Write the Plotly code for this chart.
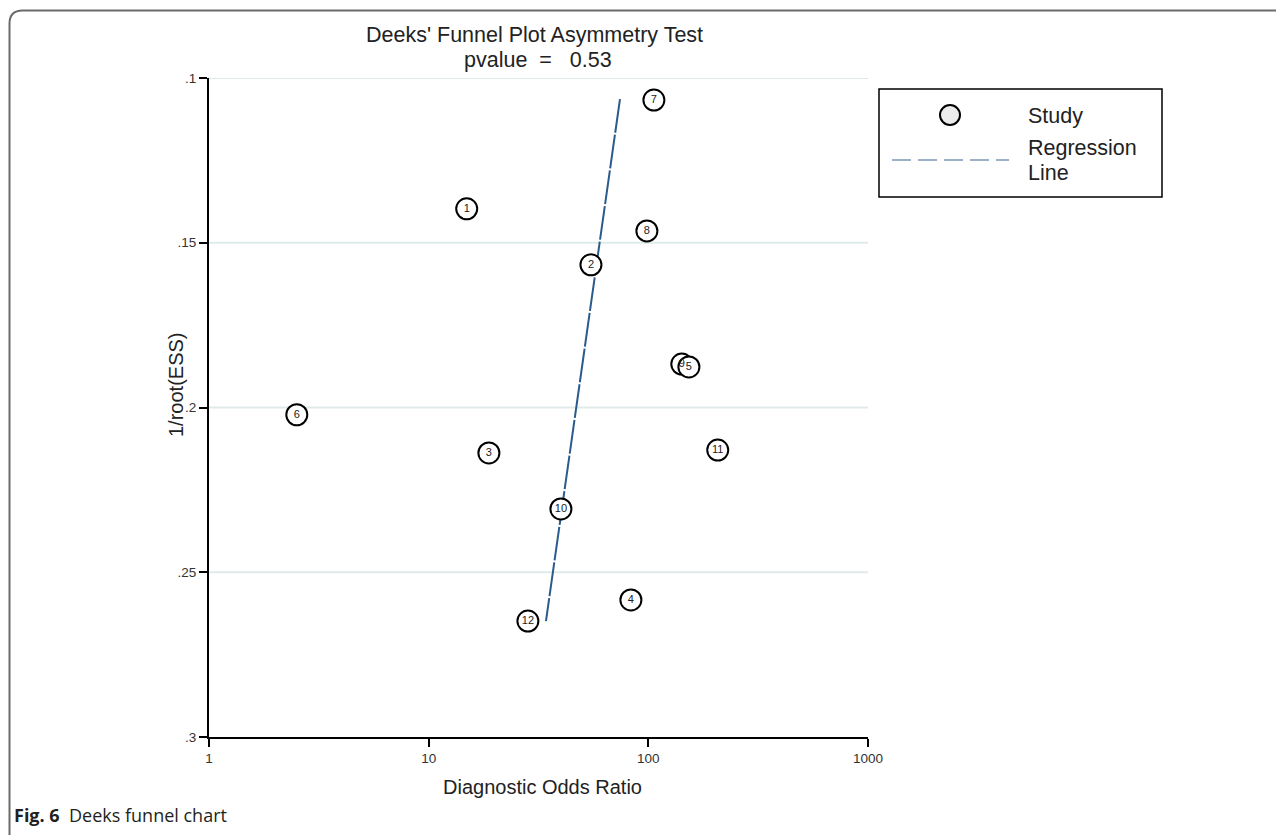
import plotly.graph_objects as go

# ---- data ----
study_ids = ["1", "7", "8", "2", "9", "5", "6", "3", "11", "10", "4", "12"]
dor = [14.9, 106, 98.5, 54.8, 142, 153, 2.51, 18.8, 207, 40.0, 83.3, 28.3]
inv_root_ess = [0.1397, 0.1067, 0.1464, 0.1567, 0.1868, 0.1877, 0.2022, 0.2138, 0.2129, 0.2308, 0.2584, 0.2648]

reg_x = [74.3, 34.2]
reg_y = [0.1064, 0.2648]

y_ticks = [0.1, 0.15, 0.2, 0.25, 0.3]
y_ticktext = [".1", ".15", ".2", ".25", ".3"]
x_ticks = [1, 10, 100, 1000]
x_ticktext = ["1", "10", "100", "1000"]

title_line1 = "Deeks' Funnel Plot Asymmetry Test"
title_line2 = "pvalue\u00a0\u00a0=\u00a0\u00a0\u00a00.53"

W, H = 1284, 835
OFF = 8  # page body margin of the browser
L, R, T, B = 209, 868, 78, 737   # plot area in reference pixels
pw, ph = R - L, B - T


def px(x):
    return (x - L) / pw


def py(y):
    return (B - y) / ph


FONT = "Liberation Sans, Arial, sans-serif"

fig = go.Figure()

fig.add_trace(go.Scatter(
    x=reg_x, y=reg_y, mode="lines",
    line=dict(color="#2b5b8c", width=2, dash="34px,2px"),
    showlegend=False, hoverinfo="skip"))

fig.add_trace(go.Scatter(
    x=dor, y=inv_root_ess, mode="markers+text",
    text=study_ids, textposition="middle center",
    textfont=dict(family=FONT, size=11, color="#222"),
    marker=dict(size=21, color="white", line=dict(color="black", width=2)),
    showlegend=False))

shapes = []
for v in y_ticks[:-1]:
    shapes.append(dict(type="line", xref="paper", yref="y", x0=0, x1=1, y0=v, y1=v,
                       line=dict(color="#dfeaea", width=2), layer="below"))

# outer frame with rounded top-left corner
fx0, fy0, rr = 9.5, 10.5, 13
path = (f"M {px(fx0)},{py(H + 20)} L {px(fx0)},{py(fy0 + rr)} "
        f"Q {px(fx0)},{py(fy0)} {px(fx0 + rr)},{py(fy0)} L {px(W + 20)},{py(fy0)}")
shapes.append(dict(type="path", xref="paper", yref="paper", path=path,
                   line=dict(color="#6b6b6b", width=2)))

# legend box
shapes.append(dict(type="rect", xref="paper", yref="paper",
                   x0=px(879), x1=px(1162), y0=py(197), y1=py(89),
                   line=dict(color="black", width=1.5), fillcolor="white"))
shapes.append(dict(type="circle", xref="paper", yref="paper",
                   x0=px(940), x1=px(960), y0=py(125), y1=py(105),
                   line=dict(color="black", width=2), fillcolor="#ececec"))
shapes.append(dict(type="line", xref="paper", yref="paper",
                   x0=px(892), x1=px(1009), y0=py(160), y1=py(160),
                   line=dict(color="#9db1c6", width=2, dash="19px,7px")))

annotations = [
    dict(text=title_line1, x=px(534), y=py(35), xref="paper", yref="paper",
         showarrow=False, font=dict(family=FONT, size=21.5, color="#222"),
         xanchor="center", yanchor="middle"),
    dict(text=title_line2, x=px(538), y=py(60), xref="paper", yref="paper",
         showarrow=False, font=dict(family=FONT, size=21.5, color="#222"),
         xanchor="center", yanchor="middle"),
    dict(text="Study", x=px(1026), y=py(116), xref="paper", yref="paper",
         showarrow=False, font=dict(family=FONT, size=21.5, color="#222"),
         xanchor="left", yanchor="middle"),
    dict(text="Regression", x=px(1026), y=py(148), xref="paper", yref="paper",
         showarrow=False, font=dict(family=FONT, size=21.5, color="#222"),
         xanchor="left", yanchor="middle"),
    dict(text="Line", x=px(1026), y=py(173), xref="paper", yref="paper",
         showarrow=False, font=dict(family=FONT, size=21.5, color="#222"),
         xanchor="left", yanchor="middle"),
    dict(text="Diagnostic Odds Ratio", x=px(542), y=py(787), xref="paper", yref="paper",
         showarrow=False, font=dict(family=FONT, size=20, color="#222"),
         xanchor="center", yanchor="middle"),
    dict(text="1/root(ESS)", x=px(176), y=py(385), xref="paper", yref="paper",
         showarrow=False, textangle=-90, font=dict(family=FONT, size=20, color="#222"),
         xanchor="center", yanchor="middle"),
    dict(text="<b>Fig. 6</b>\u00a0\u00a0Deeks funnel chart", x=px(12), y=py(815),
         xref="paper", yref="paper", showarrow=False,
         font=dict(family="Open Sans, Noto Sans, sans-serif", size=18, color="#231f20"),
         xanchor="left", yanchor="middle"),
]

fig.update_layout(
    width=W, height=H,
    margin=dict(l=L - OFF, r=W - (R - OFF), t=T - OFF, b=H - (B - OFF), pad=0),
    paper_bgcolor="white", plot_bgcolor="white",
    showlegend=False,
    shapes=shapes, annotations=annotations,
    xaxis=dict(type="log", range=[0, 3], tickvals=x_ticks, ticktext=x_ticktext,
               showgrid=False, zeroline=False, showline=True, linecolor="black",
               linewidth=2, ticks="outside", ticklen=8, tickwidth=2, tickcolor="black",
               tickfont=dict(family=FONT, size=13.5, color="#333")),
    yaxis=dict(range=[0.3, 0.1], tickvals=y_ticks, ticktext=y_ticktext,
               showgrid=False, zeroline=False, showline=True, linecolor="black",
               linewidth=2, ticks="outside", ticklen=8, tickwidth=2, tickcolor="black",
               tickfont=dict(family=FONT, size=13.5, color="#333")),
)

fig.write_html("out.html")
